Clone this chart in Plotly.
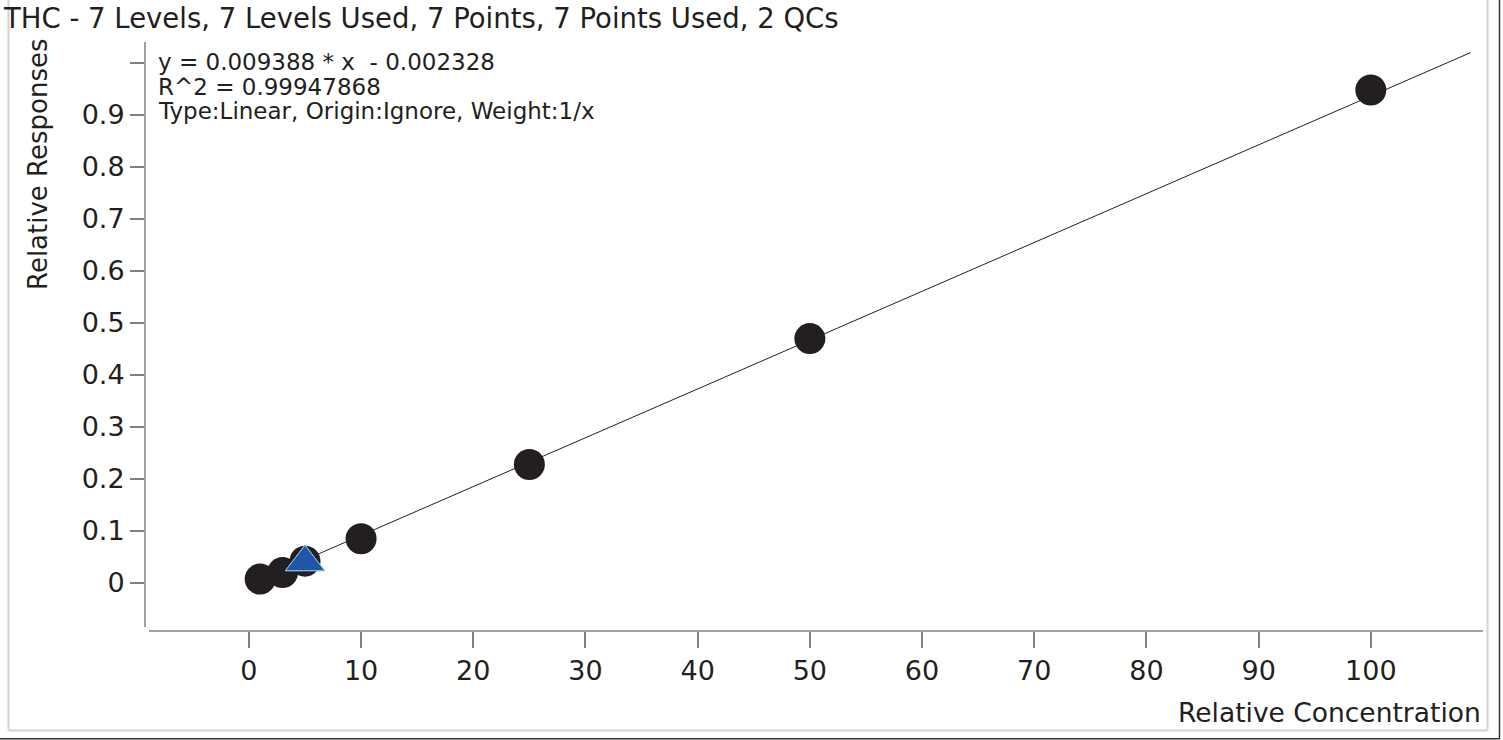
import plotly.graph_objects as go

# Data
conc = [1, 3, 5, 10, 25, 50, 100]
resp = [0.0075, 0.020, 0.042, 0.085, 0.228, 0.470, 0.948]
qc_conc = [5, 5]
qc_resp = [0.040, 0.040]
slope = 0.009388
intercept = -0.002328
fit_x = [1, 108.9]
fit_y = [slope * v + intercept for v in fit_x]
x_ticks = [0, 10, 20, 30, 40, 50, 60, 70, 80, 90, 100]
y_ticks = [0, 0.1, 0.2, 0.3, 0.4, 0.5, 0.6, 0.7, 0.8, 0.9, 1.0]
y_tick_text = ["0", "0.1", "0.2", "0.3", "0.4", "0.5", "0.6", "0.7", "0.8", "0.9", ""]

title = "THC - 7 Levels, 7 Levels Used, 7 Points, 7 Points Used, 2 QCs"
eq_lines = ["y = 0.009388 * x  - 0.002328", "R^2 = 0.99947868",
            "Type:Linear, Origin:Ignore, Weight:1/x"]

OFF = 0  # body margin removed via post_script
W, H = 1503, 740
# plot area in page coordinates
PX0, PX1, PY0, PY1 = 145, 1483, 42, 631
L, T = PX0 - OFF, PY0 - OFF
R = W - (PX1 - OFF)
B = H - (PY1 - OFF)
PW, PH = PX1 - PX0, PY1 - PY0
FONT = "DejaVu Sans"
TXT = "#231f20"


def px(x):
    return (x - PX0) / PW


def py(y):
    return (PY1 - y) / PH


fig = go.Figure()
fig.add_trace(go.Scatter(x=fit_x, y=fit_y, mode="lines",
                         line=dict(color="#231f20", width=1), showlegend=False))
fig.add_trace(go.Scatter(x=conc, y=resp, mode="markers",
                         marker=dict(size=31, color="#231f20", line=dict(width=0)),
                         showlegend=False))
fig.add_trace(go.Scatter(x=qc_conc, y=qc_resp, mode="markers",
                         marker=dict(symbol="triangle-up", size=34, color="#1f56a5",
                                     line=dict(color="#8fc3ea", width=1)),
                         showlegend=False))

shapes = []
axc = "#808080"
# axis lines
shapes.append(dict(type="line", xref="paper", yref="paper", x0=px(145), x1=px(145),
                   y0=py(42), y1=py(627), line=dict(color=axc, width=1.5)))
shapes.append(dict(type="line", xref="paper", yref="paper", x0=px(149), x1=px(1483),
                   y0=py(631), y1=py(631), line=dict(color=axc, width=1.5)))
# frame
lg = "#d4d4d4"
shapes.append(dict(type="line", xref="paper", yref="paper", x0=px(8.5), x1=px(8.5),
                   y0=py(0), y1=py(730.5), line=dict(color=lg, width=2)))
shapes.append(dict(type="line", xref="paper", yref="paper", x0=px(8.5), x1=px(1487.5),
                   y0=py(730.5), y1=py(730.5), line=dict(color=lg, width=2)))
shapes.append(dict(type="line", xref="paper", yref="paper", x0=px(1487.5), x1=px(1487.5),
                   y0=py(0), y1=py(730.5), line=dict(color=lg, width=2)))
shapes.append(dict(type="line", xref="paper", yref="paper", x0=px(1499.5), x1=px(1499.5),
                   y0=py(0), y1=py(739), line=dict(color="#333333", width=1.5)))
shapes.append(dict(type="line", xref="paper", yref="paper", x0=px(0), x1=px(1499.5),
                   y0=py(738.8), y1=py(738.8), line=dict(color="#333333", width=1.5)))

annotations = [
    dict(text=title, xref="paper", yref="paper", x=px(1), y=py(18), xanchor="left",
         yanchor="middle", showarrow=False, font=dict(family=FONT, size=27.5, color=TXT)),
    dict(text="Relative Responses", xref="paper", yref="paper", x=px(38), y=py(164),
         xanchor="center", yanchor="middle", textangle=-90, showarrow=False,
         font=dict(family=FONT, size=26, color=TXT)),
    dict(text="Relative Concentration", xref="paper", yref="paper", x=px(1483), y=py(712),
         xanchor="right", yanchor="middle", showarrow=False,
         font=dict(family=FONT, size=26.5, color=TXT)),
]
for i, line in enumerate(eq_lines):
    annotations.append(dict(text=line, xref="paper", yref="paper", x=px(157), y=py(62 + 24.5 * i),
                            xanchor="left", yanchor="middle", showarrow=False, borderpad=0,
                            font=dict(family=FONT, size=23, color=TXT)))

fig.update_layout(
    width=W, height=H, margin=dict(l=L, r=R, t=T, b=B, pad=0),
    paper_bgcolor="white", plot_bgcolor="white",
    shapes=shapes, annotations=annotations,
    xaxis=dict(range=[-9.26, 110.0], tickvals=x_ticks, ticks="outside", ticklen=16,
               tickcolor=axc, tickwidth=1.5, showgrid=False, zeroline=False, showline=False,
               tickfont=dict(family=FONT, size=27, color=TXT)),
    yaxis=dict(range=[-0.0923, 1.0404], tickvals=y_ticks, ticktext=y_tick_text,
               ticks="outside", ticklen=14, tickcolor=axc, tickwidth=1.5, showgrid=False,
               zeroline=False, showline=False,
               tickfont=dict(family=FONT, size=27, color=TXT)),
)
fig.write_html("out.html", config={"displayModeBar": False},
               post_script="document.body.style.margin='0';document.body.style.overflow='hidden';")
